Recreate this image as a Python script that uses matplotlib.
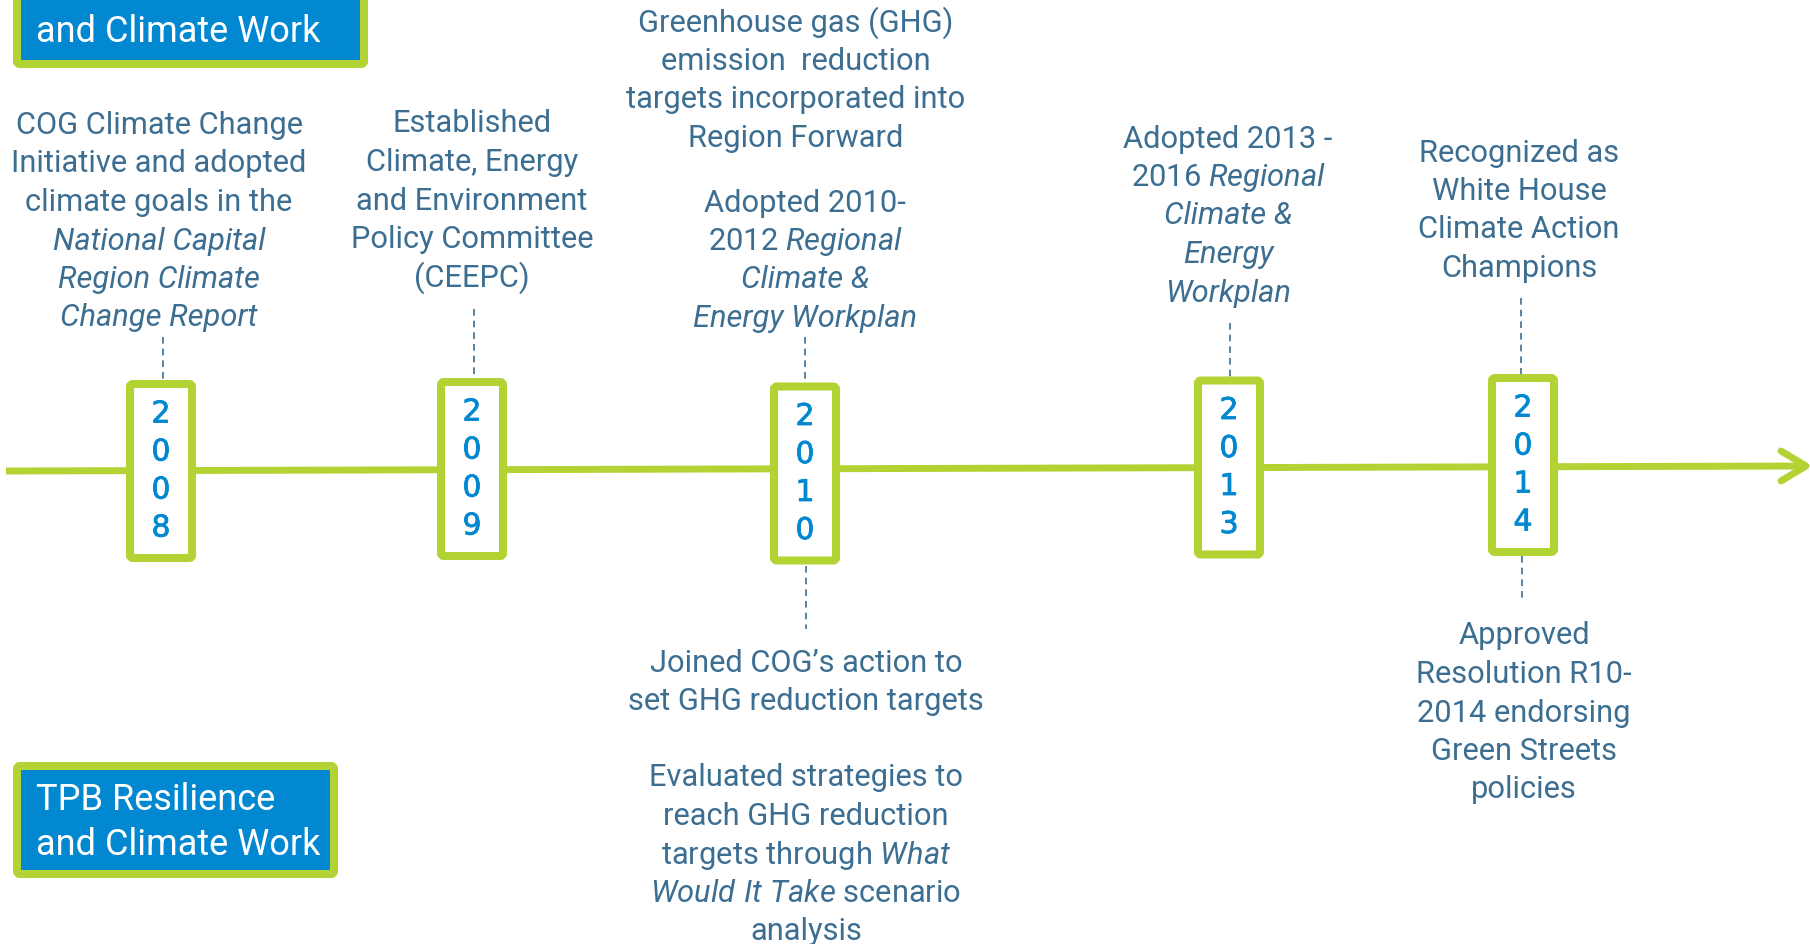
import matplotlib
matplotlib.use("Agg")
import matplotlib.pyplot as plt
import matplotlib.patheffects as pe
from matplotlib.patches import FancyBboxPatch

plt.rcParams["font.family"] = ["Roboto", "DejaVu Sans"]
plt.rcParams["mathtext.fontset"] = "custom"
plt.rcParams["mathtext.rm"] = "Roboto"
plt.rcParams["mathtext.it"] = "Roboto:italic"

GREEN = "#b3d334"
BLUE = "#0288d1"
TEXT = "#3c6e92"

# --- data -----------------------------------------------------------------
years = ["2008", "2009", "2010", "2013", "2014"]

cog_title = ["COG Resilience", "and Climate Work"]
tpb_title = ["TPB Resilience", "and Climate Work"]

notes_2008_top = ["COG Climate Change", "Initiative and adopted", "climate goals in the",
                  "_National Capital", "_Region Climate", "_Change Report"]
notes_2009_top = ["Established", "Climate, Energy", "and Environment",
                  "Policy Committee", "(CEEPC)"]
notes_2010_top_a = ["Greenhouse gas (GHG)", "emission  reduction",
                    "targets incorporated into", "Region Forward"]
notes_2010_top_b = ["Adopted 2010-", r"2012 $\it{Regional}$", "_Climate &",
                    "_Energy Workplan"]
notes_2013_top = ["Adopted 2013 -", r"2016 $\it{Regional}$", "_Climate &",
                  "_Energy", "_Workplan"]
notes_2014_top = ["Recognized as", "White House", "Climate Action", "Champions"]
notes_2010_bot_a = ["Joined COG\u2019s action to", "set GHG reduction targets"]
notes_2010_bot_b = ["Evaluated strategies to", "reach GHG reduction",
                    r"targets through $\it{What}$", r"$\it{Would\ It\ Take}$ scenario",
                    "analysis"]
notes_2014_bot = ["Approved", "Resolution R10-", "2014 endorsing",
                  "Green Streets", "policies"]

# --- layout (pixel coordinates) -------------------------------------------
box_x = [161, 472, 805, 1229, 1523]
box_y = [471, 469, 473.5, 467.5, 465]

blocks = [
    (notes_2008_top, 159, 125.5),
    (notes_2009_top, 472, 124),
    (notes_2010_top_a, 796, 23),
    (notes_2010_top_b, 805, 203),
    (notes_2013_top, 1228, 139),
    (notes_2014_top, 1519, 153),
    (notes_2010_bot_a, 806, 663),
    (notes_2010_bot_b, 806, 778),
    (notes_2014_bot, 1524, 636),
]
line_gap = 38.5

connectors = [(163, 337, 381), (474, 309, 378), (805, 337, 383), (1230, 323, 377),
              (1521, 298, 374), (806, 566, 629), (1522, 556, 602)]

fig = plt.figure(figsize=(18.1, 9.44), dpi=100)
ax = fig.add_axes([0, 0, 1, 1])
ax.set_xlim(0, 1810)
ax.set_ylim(944, 0)
ax.axis("off")

# timeline with arrow
ax.plot([6, 1806], [471, 466], color=GREEN, lw=5, solid_capstyle="butt", zorder=1)
ax.plot([1781, 1806, 1781], [451, 466, 481], color=GREEN, lw=5,
        solid_capstyle="round", solid_joinstyle="round", zorder=1)

# dashed connectors
for x, y0, y1 in connectors:
    ax.plot([x, x], [y0, y1], color=TEXT, lw=1.2, dashes=(4, 3), zorder=0)

# year boxes
thick = [pe.withStroke(linewidth=0.6, foreground=BLUE)]
for yr, cx, cy in zip(years, box_x, box_y):
    w, h = 62, 174
    ax.add_patch(FancyBboxPatch((cx - w / 2, cy - h / 2), w, h,
                                boxstyle="round,pad=0,rounding_size=3",
                                fc="white", ec=GREEN, lw=5.8, zorder=2))
    for i, d in enumerate(yr):
        ax.text(cx, cy + (i - 1.5) * 38, d, color=BLUE, fontsize=21.5,
                family="DejaVu Sans", ha="center", va="center", zorder=3,
                path_effects=thick)

# notes
for lines, x, y0 in blocks:
    for i, line in enumerate(lines):
        style = "normal"
        if line.startswith("_"):
            line, style = line[1:], "italic"
        ax.text(x, y0 + i * line_gap, line, color=TEXT, fontsize=22.2,
                style=style, ha="center", va="center")

# title boxes
for title, (x0, y0, x1, y1), ty, gap in [(cog_title, (17, -60, 364, 64), -10, 42),
                                         (tpb_title, (17, 766, 334, 874), 800, 45)]:
    ax.add_patch(FancyBboxPatch((x0, y0), x1 - x0, y1 - y0,
                                boxstyle="round,pad=0,rounding_size=3",
                                fc=BLUE, ec=GREEN, lw=5.8, zorder=2))
    for i, t in enumerate(title):
        ax.text(36, ty + i * gap, t, color="white", fontsize=26, ha="left",
                va="center", zorder=3)

fig.savefig("out.png", dpi=100)
